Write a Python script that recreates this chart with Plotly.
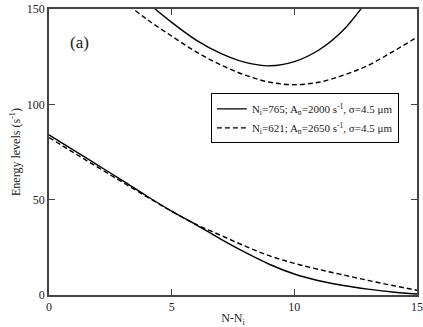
import plotly.graph_objects as go

n = list(range(16))

# lower branch
low_765 = [84, 76, 68, 60, 51.8, 44, 36.8, 29.3, 22.3, 16, 11, 7.5, 5, 3.1, 1.6, 0.5]
low_621 = [82.6, 74.7, 66.9, 59.1, 51.4, 43.9, 37, 31.3, 25.6, 20.5, 16.6, 13.4, 10.5, 7.7, 5, 2.5]

# upper branch (values beyond the top of the frame get clipped)
up_n_765 = [4, 5, 6, 7, 8, 9, 10, 11, 12, 13]
up_765 = [153.5, 143, 133.7, 126.7, 122, 120.2, 122.4, 128.5, 139, 155]
up_n_621 = [3, 4, 5, 6, 7, 8, 9, 10, 11, 12, 13, 14, 15]
up_621 = [154.5, 144.5, 135.8, 127.5, 120.7, 115.3, 111.6, 110.3, 111.6, 115.3, 120.4, 127.5, 135.2]

lbl_765 = "N<sub>i</sub>=765; A<sub>n</sub>=2000 s<sup>-1</sup>, σ=4.5 μm"
lbl_621 = "N<sub>i</sub>=621; A<sub>n</sub>=2650 s<sup>-1</sup>, σ=4.5 μm"

fig = go.Figure()
solid = dict(color="black", width=1.4, shape="spline")
dashed = dict(color="black", width=1.4, dash="5px,3px", shape="spline")

fig.add_trace(go.Scatter(x=n, y=low_765, mode="lines", line=solid, name=lbl_765))
fig.add_trace(go.Scatter(x=up_n_765, y=up_765, mode="lines", line=solid, showlegend=False))
fig.add_trace(go.Scatter(x=n, y=low_621, mode="lines", line=dashed, name=lbl_621))
fig.add_trace(go.Scatter(x=up_n_621, y=up_621, mode="lines", line=dashed, showlegend=False))

fig.add_annotation(text="(a)", x=1.25, y=132.5, xref="x", yref="y", showarrow=False,
                   font=dict(size=17))

axis = dict(showline=True, mirror="ticks", linecolor="#444", linewidth=1.5,
            ticks="inside", ticklen=6, tickcolor="#444", tickwidth=1.2,
            showgrid=False, zeroline=False, automargin=False,
            tickfont=dict(size=12, color="#222"))

fig.update_layout(
    width=423, height=327,
    margin=dict(l=49, r=6, t=9, b=32),
    paper_bgcolor="white", plot_bgcolor="white",
    font=dict(family="Times New Roman, Liberation Serif, serif", color="#222"),
    xaxis=dict(range=[0, 15], tickvals=[0, 5, 10, 15],
               title=dict(text="N-N<sub>i</sub>", font=dict(size=12), standoff=2), **axis),
    yaxis=dict(range=[0, 150], tickvals=[0, 50, 100, 150],
               title=dict(text="Energy levels (s<sup>-1</sup>)", font=dict(size=12), standoff=4), **axis),
    legend=dict(x=0.44, y=0.705, xanchor="left", yanchor="top", bordercolor="black",
                borderwidth=1, bgcolor="white", font=dict(size=11), tracegroupgap=0,
                itemwidth=30),
    showlegend=True,
)

# page body has an 8px default margin; remove it so the figure sits at the corner
fig.write_html("out.html", config={"displayModeBar": False},
               post_script="document.body.style.margin='0px';")
